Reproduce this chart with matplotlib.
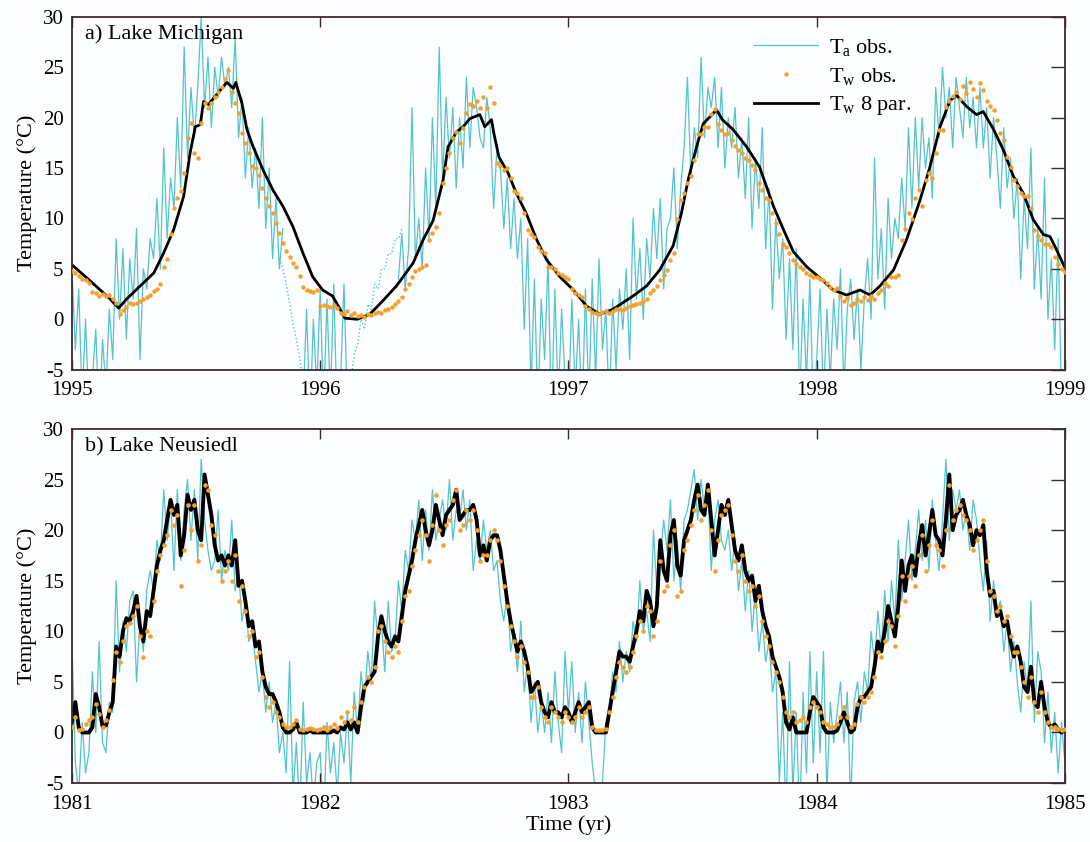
import matplotlib
matplotlib.use("Agg")
import matplotlib.pyplot as plt
import numpy as np

plt.rcParams["font.family"] = ["Liberation Serif", "DejaVu Serif"]
plt.rcParams["mathtext.fontset"] = "custom"
plt.rcParams["mathtext.rm"] = "Liberation Serif"
plt.rcParams["mathtext.it"] = "Liberation Serif:italic"
plt.rcParams["axes.unicode_minus"] = False

nan = np.nan
C_AIR = "#55c3cc"
C_OBS = "#f2a22c"
FRAME = "#3b2b2b"

# ================= a) Lake Michigan, 1995-1999 (5-day samples) =================
# air temperature, solid record (gaps = nan)
mi_ta = [
    5, -3, 3, -8, 0, -9, -6, -1, -10, -2, -7, 1, -4, 8, 0, 7, -2, 6, 2, 9, -4, 5, 3, 8,
    6, 12, 5, 17, 8, 14, 11, 20, 13, 27, 16, 23, 18, 23, 30, 21, 26, 19, 25, 22, 26, 23, 25, 21,
    28, 18, 22, 14, 19, 13, 17, 11, 20, 9, 15, 6, 12, 5, 9, nan, nan, nan, nan, nan, -8, 1, -10, 0, -7,
    # 1996
    3, -9, 2, -8, 3.5, -10, -6, 3.5, -9, nan, nan, nan, nan, nan, nan, nan, nan, nan, nan, nan, nan, nan, nan,
    4, 8.5, 3, 7, 21, 6, 10, 5, 15, 8, 20, 11, 27, 14, 22, 16, 21, 13, 20, 15, 24, 17, 23, 21, 18,
    17, 22, 19, 11, 17, 15, 9, 14, 7, 12, 6, 10, -1, 8, -7, 4, -9, 2, -4, 6, -10, 3, -8, 1, -6,
    # 1997
    -9, 2, -7, 0, -10, 3, -8, 4, -6, 6, -3, 1, -9, 2, -5, 3, -1, 5, -4, 10, 2, 7, 0, 8,
    4, 11, 6, 12, 3, 9, 10, 15, 7, 13, 17, 24, 14, 19, 16, 26, 18, 23, 21, 24, 17, 23, 15, 20,
    17, 21, 14, 18, 12, 20, 9, 16, 11, 19, 7, 13, 1, 10, 4, 8, -2, 6, -3, 7, -8, 2, -6, 4, -9,
    # 1998
    -4, 3, -8, 1, -6, 2, -3, 5, -7, 1, 4, -2, 3, -5, 2, 6, 0, 16, 4, 9, 1, 12, 6, 10,
    8, 14, 9, 19, 11, 20, 13, 20, 15, 18, 12, 23, 18, 25, 20, 23, 17, 24, 21, 18, 24, 19, 22, 17,
    23, 17, 21, 14, 20, 16, 11, 19, 13, 16, 10, 14, 4, 12, 7, 17, 3, 9, 2, 14, 0, 6, -3, 8, -8,
    -6,
]
# gap-filled air temperature (dotted), winter 1995/96
mi_ta_fill_start = 1995.836
mi_ta_fill = [6, 5, 3.5, 1.5, -0.5, -2, -4, -6.5, -8, -9, -10, -11, -12, -11, -10, -11,
              -10, -9, -8, -7.5, -7, -6, -3.5, -2.5, 0, -1, 1.5, 1, 3.5, 3, 5, 5, 6.5,
              6.5, 8, 8, 9]
# observed surface water temperature
mi_tw = [
    4.8, 4.6, 4.3, 4.0, 3.9, 3.6, 2.7, 2.6, 2.3, 2.5, 2.3, 2.4, 2.0, 1.6, 0.5, 0.9, 1.2, 1.6, 1.5, 1.6,
    1.8, 2.0, 2.2, 2.4, 2.8, 3.0, 3.5, 5.2, 6.0, 8.5, 11.0, 12.0, 12.7, 14.5, 18.0, 19.5, 16.5, 16.0, 19.5, 21.5,
    21.0, 21.5, 22.0, 22.5, 23.0, 23.8, 24.7, 22.5, 21.5, 20.5, 18.5, 17.5, 16.5, 15.2, 15.0, 14.3, 13.0, 12.0, 11.2, 10.5,
    9.5, 8.6, 7.6, 6.8, 6.2, 5.6, 5.2, 4.3, 3.2, 2.9, 2.8, 2.7, 2.9,
    # 1996
    1.3, 1.4, 1.3, 1.2, 1.4, 1.1, 0.6, 0.5, 0.8, 0.4, 0.6, 0.3, 0.4, 0.2, 0.5, 0.4, 0.6, 0.7, 0.6, 0.9,
    1.0, 1.2, 1.5, 1.8, 2.2, 3.0, 3.5, 4.2, 4.8, 5.0, 5.2, 5.4, 7.9, 8.6, 9.2, 10.5, 13.5, 15.0, 16.5, 18.0,
    18.6, 17.5, 19.0, 20.5, 21.4, 21.2, 21.7, 21.0, 22.0, 21.0, 23.0, 21.5, 15.5, 15.2, 14.8, 15.0, 14.0, 12.7, 12.5, 12.0,
    10.5, 8.9, 8.5, 8.2, 7.2, 6.8, 6.6, 5.2, 5.2, 5.0, 4.6, 4.4, 4.2,
    # 1997
    4.0, 3.0, 2.6, 2.4, 2.2, 1.3, 1.0, 0.7, 0.6, 0.5, 0.7, 0.8, 0.6, 0.8, 1.0, 1.0, 0.9, 1.1, 1.3, 1.4,
    1.5, 1.6, 1.8, 2.0, 2.6, 2.9, 3.3, 3.9, 4.4, 4.9, 5.9, 6.6, 9.9, 11.8, 12.5, 13.5, 14.2, 15.8, 18.4, 18.4,
    19.1, 19.1, 20.4, 20.9, 19.4, 18.8, 18.4, 18.5, 17.8, 17.2, 16.8, 16.5, 16.0, 15.8, 15.3, 14.8, 13.5, 12.8, 12.0, 11.8,
    10.5, 9.5, 8.5, 7.5, 7.2, 6.6, 5.9, 5.5, 5.2, 5.0, 4.6, 4.4, 4.2,
    # 1998
    4.2, 4.0, 3.9, 3.6, 3.2, 2.9, 3.1, 2.3, 1.8, 2.1, 1.4, 1.6, 2.0, 1.8, 2.2, 1.9, 2.3, 2.0, 2.6, 2.9,
    3.6, 3.3, 4.2, 4.2, 4.4, 7.9, 9.0, 10.5, 9.9, 12.0, 12.8, 11.2, 13.8, 14.5, 14.0, 16.5, 18.8, 18.8, 21.1, 21.7,
    22.1, 22.5, 21.8, 23.1, 22.4, 23.5, 22.8, 22.0, 23.4, 22.7, 21.7, 21.2, 20.8, 19.8, 18.5, 17.8, 16.1, 15.1, 13.8, 13.2,
    12.5, 12.2, 12.2, 11.0, 8.9, 8.3, 7.9, 7.5, 7.5, 7.2, 6.2, 5.5, 5.0,
    4.7,
]
# 8-parameter model (read at irregular dates)
mi_mod_t = [1995.00, 1995.06, 1995.114, 1995.154, 1995.188, 1995.22, 1995.275, 1995.33, 1995.37,
            1995.41, 1995.45, 1995.476, 1995.497, 1995.517, 1995.53, 1995.55, 1995.57, 1995.597,
            1995.624, 1995.65, 1995.66, 1995.685, 1995.705, 1995.73, 1995.77, 1995.81, 1995.85,
            1995.89, 1995.93, 1995.97, 1996.01, 1996.05, 1996.08, 1996.10, 1996.15, 1996.20,
            1996.255, 1996.307, 1996.375, 1996.415, 1996.455, 1996.495, 1996.515, 1996.55,
            1996.576, 1996.603, 1996.643, 1996.663, 1996.69, 1996.70, 1996.72, 1996.757, 1996.79,
            1996.83, 1996.872, 1996.912, 1996.966, 1997.02, 1997.073, 1997.127, 1997.18, 1997.26,
            1997.315, 1997.368, 1997.422, 1997.455, 1997.482, 1997.516, 1997.543, 1997.583,
            1997.596, 1997.62, 1997.664, 1997.718, 1997.77, 1997.826, 1997.866, 1997.906, 1997.96,
            1998.013, 1998.067, 1998.12, 1998.175, 1998.215, 1998.255, 1998.31, 1998.362,
            1998.416, 1998.456, 1998.497, 1998.537, 1998.564, 1998.604, 1998.644, 1998.671,
            1998.711, 1998.752, 1998.792, 1998.832, 1998.872, 1998.913, 1998.94, 1998.966, 1999.0]
mi_mod = [5.4, 4.1, 2.9, 2.0, 1.1, 2.0, 3.3, 4.6, 6.6,
          8.9, 12.2, 16.5, 19.1, 19.3, 21.6, 21.3, 21.9, 22.7,
          23.5, 22.9, 23.5, 21.4, 18.8, 17.1, 14.8, 12.8, 11.2,
          9.2, 6.6, 4.2, 2.9, 2.3, 1.0, 0.1, 0.0, 0.5,
          1.9, 3.3, 5.6, 7.9, 9.8, 13.8, 17.1, 18.6,
          19.1, 19.9, 20.3, 19.1, 19.8, 18.4, 16.1, 14.5, 12.5,
          10.5, 7.9, 5.9, 4.2, 2.9, 1.3, 0.5, 1.0, 2.3,
          3.3, 4.9, 7.3, 10.5, 13.8, 17.1, 19.4, 20.4,
          20.8, 19.8, 18.8, 17.1, 15.1, 11.2, 8.9, 6.7, 5.2,
          4.1, 2.9, 2.4, 2.9, 2.4, 3.3, 4.9, 7.9,
          11.8, 15.1, 19.1, 21.7, 22.2, 21.1, 20.3, 20.6,
          18.9, 16.8, 14.2, 12.5, 9.9, 8.4, 8.2, 6.9, 5.1]

# ================= b) Lake Neusiedl, 1981-1985 (5-day samples) =================
ne_ta = [
    9, -3, -6, 1, -4, -2, 6, 0, 9, -1, -2, 3, 2, 15, 6, 11, 8, 13, 14, 5, 11, 8, 14, 16,
    14, 19, 17, 24, 19, 23, 16, 24, 17, 22, 25, 19, 24, 17, 27, 21, 18, 16, 17, 22, 15, 18, 16, 21,
    14, 16, 11, 13, 9, 10, 7, 4, 6, 2, 5, 1, 3, -2, 0, -4, 7, -6, -1, -8, 3, -5, -2, -7, -3,
    # 1982
    -2, -9, 1, -4, -1, -6, 0, -3, 2, -5, 4, 0, 6, 3, 8, 5, 13, 9, 11, 6, 13, 8, 9, 15,
    12, 18, 16, 21, 19, 23, 17, 22, 18, 24, 19, 21, 23, 20, 25, 19, 22, 21, 24, 20, 23, 16, 19, 17,
    21, 18, 20, 16, 17, 13, 11, 14, 8, 10, 6, 11, 4, 7, 1, 5, 0, 3, 0, 4, -1, 6, 1, -2, 8,
    # 1983
    2, 7, 0, 4, -1, 5, 1, -3, -6, -8, -5, 1, 2, 6, 4, 9, 5, 8, 6, 11, 9, 15, 10, 12,
    9, 20, 14, 17, 21, 18, 23, 15, 19, 14, 21, 22, 24, 26, 21, 25, 22, 24, 16, 21, 23, 19, 18, 20,
    16, 19, 14, 17, 12, 16, 10, 14, 8, 11, 7, 9, 4, 6, -5, 2, -8, 7, -6, 2, -9, 4, -4, 8, -3,
    # 1984
    6, -2, 8, -6, 3, -1, 2, 5, -1, 4, -7, 3, 5, 1, 6, 4, 10, 7, 12, 8, 14, 9, 15, 11,
    19, 13, 17, 21, 15, 18, 22, 17, 21, 16, 23, 19, 16, 21, 27, 19, 24, 22, 24, 20, 22, 18, 23, 21,
    17, 14, 19, 11, 15, 12, 13, 8, 11, 6, 9, 5, 2, 7, 4, 13, 1, 8, 6, -1, 4, -2, 2, -4, 1,
    -3,
]
ne_tw = [
    0.5, 1.5, 0.2, 0.3, 0.8, 1.2, 1.5, 2.8, 1.8, 0.5, 1.2, 2.2, 5.2, 8.0, 7.0, 9.0, 10.5, 10.8, 11.5, 12.5,
    9.5, 7.5, 10.0, 9.5, 13.0, 16.0, 17.5, 18.5, 19.5, 22.0, 20.5, 21.5, 14.5, 18.0, 22.5, 20.0, 22.5, 17.0, 18.5, 24.5,
    24.0, 20.5, 19.5, 16.0, 15.0, 16.0, 17.0, 15.0, 17.5, 13.0, 14.5, 12.0, 9.5, 10.0, 7.5, 8.0, 5.5, 3.5, 2.5, 3.0,
    2.0, 1.5, 0.8, 0.5, 0.5, 0.8, 1.2, 0.3, 0.2, 0.3, 0.4, 0.3, 0.2,
    # 1982
    0.3, 0.5, 0.2, 0.5, 0.8, 0.4, 1.5, 1.0, 2.0, 1.2, 2.5, 1.0, 3.0, 4.5, 5.5, 5.0, 6.5, 10.0, 10.5, 9.0,
    8.0, 7.5, 8.5, 8.0, 11.0, 13.5, 14.0, 16.5, 18.0, 19.5, 21.0, 19.5, 17.0, 20.5, 23.5, 20.0, 18.5, 20.5, 21.0, 23.0,
    24.0, 20.0, 20.5, 22.0, 21.0, 22.0, 20.0, 17.0, 17.5, 17.5, 19.0, 20.0, 19.0, 17.0, 14.5, 12.5, 10.5, 9.0, 7.5, 8.5,
    7.0, 6.0, 3.5, 3.5, 4.5, 2.5, 1.5, 1.0, 2.5, 2.0, 1.5, 1.0, 2.0,
    # 1983
    1.5, 1.0, 1.5, 2.5, 1.5, 2.0, 2.5, 0.5, 0.2, 0.2, 0.2, 0.3, 2.0, 3.5, 5.5, 7.0, 6.5, 6.0, 6.5, 8.0,
    9.5, 11.0, 10.0, 12.5, 12.0, 9.5, 11.0, 17.0, 14.0, 14.5, 18.5, 20.0, 13.5, 14.0, 18.0, 19.0, 20.5, 22.0, 23.5, 21.0,
    22.5, 24.0, 20.0, 16.0, 19.0, 21.5, 22.0, 22.5, 19.5, 17.0, 16.0, 17.5, 15.0, 14.0, 14.5, 12.5, 13.5, 11.0, 9.5, 8.5,
    7.0, 6.0, 5.0, 3.5, 2.0, 1.5, 2.0, 1.0, 1.2, 1.5, 1.0, 2.5, 3.0,
    # 1984
    2.5, 2.0, 1.0, 0.8, 0.5, 0.5, 0.8, 1.5, 2.5, 1.5, 0.5, 0.8, 2.8, 3.5, 3.0, 3.5, 4.0, 5.5, 8.0, 7.5,
    9.0, 11.0, 10.5, 8.5, 11.5, 15.5, 13.0, 15.5, 16.5, 14.5, 17.5, 19.5, 16.0, 18.5, 21.0, 18.5, 18.0, 16.5, 20.0, 24.5,
    21.0, 22.0, 22.5, 21.5, 21.0, 20.0, 18.0, 19.0, 20.0, 21.0, 17.0, 14.0, 13.5, 12.0, 12.5, 11.0, 11.5, 9.5, 8.0, 8.0,
    6.5, 5.0, 3.5, 5.5, 3.0, 2.0, 4.0, 2.0, 1.0, 0.5, 0.5, 0.3, 0.2,
    0.3,
]
ne_mod = [
    1.0, 3.0, 0.5, 0.0, 0.0, 0.0, 0.5, 3.8, 2.5, 0.6, 0.7, 2.0, 3.0, 8.5, 7.5, 10.0, 11.3, 11.0, 12.0, 13.5,
    10.5, 9.0, 12.0, 11.5, 14.0, 16.5, 18.0, 19.0, 21.0, 23.0, 21.5, 22.5, 17.5, 19.5, 23.5, 22.0, 23.0, 20.0, 19.0, 25.5,
    23.5, 21.5, 18.5, 17.0, 17.5, 16.5, 17.5, 16.5, 19.0, 14.5, 15.0, 13.0, 10.5, 11.0, 8.5, 9.0, 6.0, 4.5, 3.8, 3.8,
    3.0, 2.0, 0.5, 0.0, 0.0, 0.3, 1.0, 0.0, 0.0, 0.0, 0.2, 0.0, 0.0,
    # 1982
    0.0, 0.0, 0.0, 0.0, 0.2, 0.0, 0.5, 0.3, 1.0, 0.3, 1.0, 0.0, 2.5, 4.5, 5.0, 5.5, 6.0, 9.5, 11.5, 10.0,
    9.0, 8.5, 9.5, 9.0, 11.5, 14.0, 15.5, 17.0, 19.0, 20.5, 22.0, 20.0, 18.5, 20.0, 22.5, 21.0, 19.5, 21.5, 22.0, 22.5,
    24.0, 21.0, 21.5, 22.0, 22.0, 22.5, 21.0, 17.5, 18.5, 17.0, 19.0, 19.5, 19.5, 18.0, 15.5, 13.0, 11.0, 9.5, 8.0, 9.0,
    8.0, 6.5, 4.0, 4.5, 5.0, 3.0, 2.0, 1.5, 3.0, 2.0, 2.0, 1.5, 2.5,
    # 1983
    2.0, 1.0, 2.0, 3.0, 2.0, 2.5, 3.0, 0.5, 0.0, 0.0, 0.0, 0.0, 2.0, 4.0, 6.0, 8.0, 7.5, 7.5, 7.0, 8.5,
    10.0, 12.0, 11.0, 14.0, 13.0, 10.5, 12.5, 19.0, 16.0, 15.0, 19.5, 21.0, 16.5, 15.5, 19.0, 20.0, 21.0, 23.0, 24.5, 22.0,
    21.5, 24.5, 21.0, 17.5, 20.0, 22.5, 21.5, 23.0, 20.5, 18.0, 17.0, 18.5, 16.0, 15.0, 15.5, 13.0, 14.5, 12.0, 10.5, 9.5,
    7.5, 6.5, 5.5, 4.0, 1.0, 0.3, 1.5, 0.0, 0.0, 0.0, 0.0, 2.0, 3.5,
    # 1984
    3.0, 2.5, 0.5, 0.0, 0.0, 0.0, 0.2, 1.0, 2.0, 1.0, 0.0, 0.3, 2.5, 3.5, 3.5, 4.0, 4.5, 6.5, 9.0, 8.0,
    10.0, 12.5, 11.0, 9.5, 12.5, 17.0, 14.0, 16.5, 17.5, 15.5, 18.5, 20.5, 17.5, 19.5, 22.0, 19.5, 19.0, 17.5, 21.0, 25.5,
    20.0, 21.5, 22.0, 23.0, 21.5, 20.5, 18.5, 20.0, 19.5, 20.5, 16.0, 13.5, 14.0, 11.5, 12.0, 10.5, 11.0, 9.0, 7.5, 8.5,
    7.0, 4.5, 4.0, 6.5, 3.0, 2.5, 5.0, 2.5, 1.0, 0.5, 0.8, 0.3, 0.0,
    0.3,
]

years_a = [1995, 1996, 1997, 1998, 1999]
years_b = [1981, 1982, 1983, 1984, 1985]


def days(series, y0, y1):
    # 5-day samples spanning y0..y1
    return np.linspace(y0, y1, len(series))


fig = plt.figure(figsize=(10.9, 8.42), dpi=100, facecolor="#fcfdff")
ax1 = fig.add_axes([0.066, 0.561, 0.911, 0.419])
ax2 = fig.add_axes([0.066, 0.070, 0.911, 0.4205])

# ---- panel a ----
ax1.plot(days(mi_ta, 1995, 1999), mi_ta, color=C_AIR, lw=0.9, zorder=1, label=r"T$_\mathrm{a}$ obs.")
fill_t = mi_ta_fill_start + np.arange(len(mi_ta_fill)) / 73.0
ax1.plot(fill_t, mi_ta_fill, color=C_AIR, lw=1.0, ls=":", zorder=1)
ax1.plot(days(mi_tw, 1995, 1999), mi_tw, ls="none", marker="o", ms=3.2, mew=0,
         color=C_OBS, zorder=3, label=r"T$_\mathrm{w}$ obs.")
ax1.plot(mi_mod_t, mi_mod, color="black", lw=2.0, zorder=2, label=r"T$_\mathrm{w}$ 8 par.")

# ---- panel b ----
ax2.plot(days(ne_ta, 1981, 1985), ne_ta, color=C_AIR, lw=0.9, zorder=1)
ax2.plot(days(ne_mod, 1981, 1985), ne_mod, color="black", lw=2.8, zorder=2)
ax2.plot(days(ne_tw, 1981, 1985), ne_tw, ls="none", marker="o", ms=3.3, mew=0,
         color=C_OBS, zorder=3)

for ax, yrs, title in [(ax1, years_a, "a) Lake Michigan"), (ax2, years_b, "b) Lake Neusiedl")]:
    ax.set_facecolor("#fcfdff")
    ax.set_xlim(yrs[0], yrs[-1])
    ax.set_ylim(-5, 30)
    ax.set_xticks(yrs)
    ax.set_xticklabels([str(y) for y in yrs])
    ax.set_yticks(range(-5, 31, 5))
    ax.tick_params(axis="y", left=False, right=True, direction="in", length=10,
                   width=1.0, labelsize=15, pad=6, color=FRAME)
    ax.tick_params(axis="x", top=True, bottom=True, direction="in", length=7,
                   width=1.0, labelsize=15, pad=8.5, color=FRAME)
    for sp in ax.spines.values():
        sp.set_color(FRAME)
        sp.set_linewidth(1.3)
    ax.set_ylabel("Temperature (°C)", fontsize=16)
    ax.yaxis.set_label_coords(-0.035, 0.5)
    ax.text(0.013, 0.95, title, transform=ax.transAxes, fontsize=16, va="center", ha="left")

ax2.set_xlabel("Time (yr)", fontsize=16, labelpad=1)

ax1.legend(loc="upper left", bbox_to_anchor=(0.676, 0.975), frameon=False, fontsize=16,
           handlelength=2.85, handletextpad=0.5, labelspacing=0.35, borderpad=0,
           numpoints=1, markerscale=1.0)

fig.savefig("out.png", dpi=100, facecolor=fig.get_facecolor())
